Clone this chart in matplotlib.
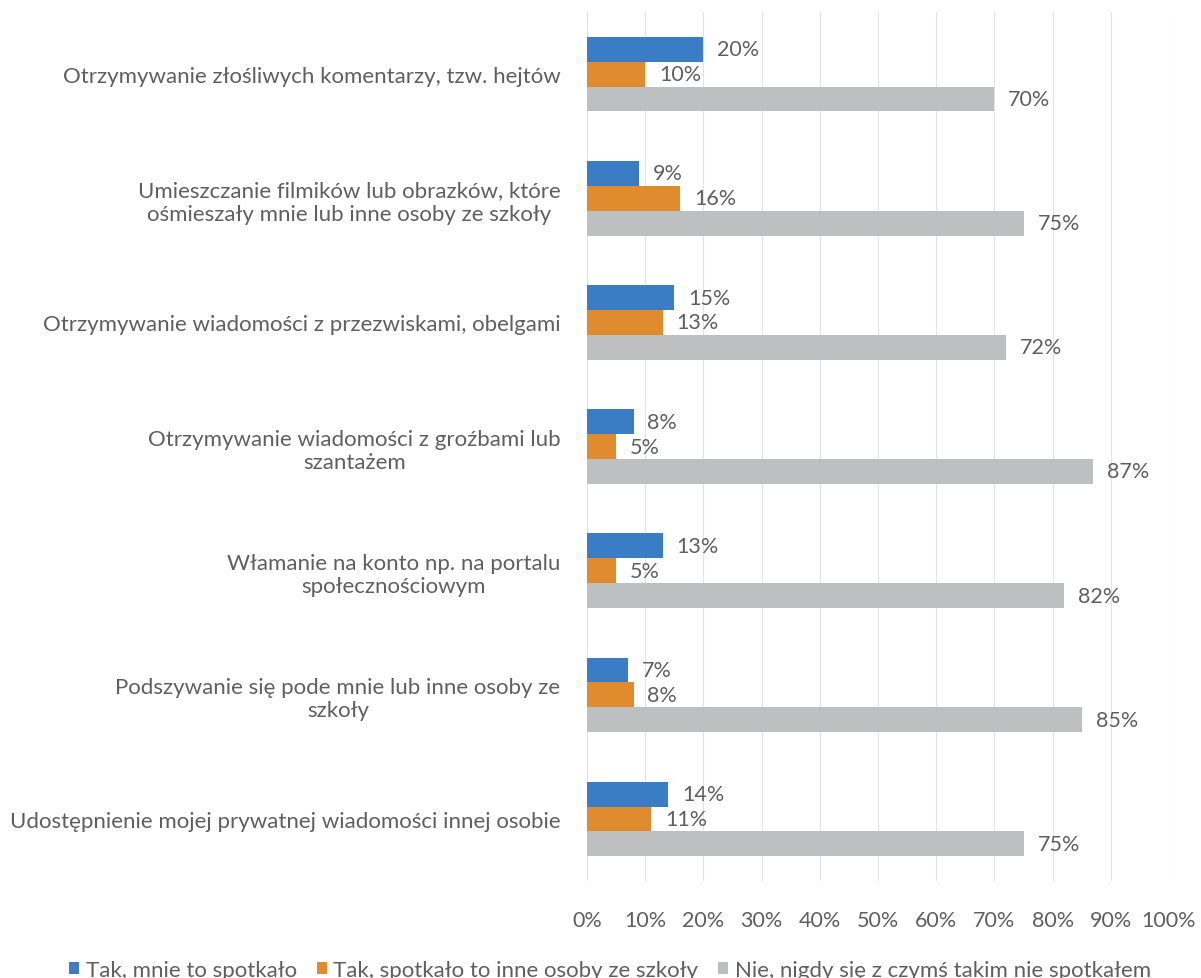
import matplotlib
matplotlib.use("Agg")
import matplotlib.pyplot as plt
import numpy as np
from matplotlib.patches import Patch

plt.rcParams['font.family'] = ['Lato', 'DejaVu Sans']

categories = [
    "Otrzymywanie złośliwych komentarzy, tzw. hejtów",
    "Umieszczanie filmików lub obrazków, które\nośmieszały mnie lub inne osoby ze szkoły",
    "Otrzymywanie wiadomości z przezwiskami, obelgami",
    "Otrzymywanie wiadomości z groźbami lub\nszantażem",
    "Włamanie na konto np. na portalu\nspołecznościowym",
    "Podszywanie się pode mnie lub inne osoby ze\nszkoły",
    "Udostępnienie mojej prywatnej wiadomości innej osobie",
]
series_names = [
    "Tak, mnie to spotkało",
    "Tak, spotkało to inne osoby ze szkoły",
    "Nie, nigdy się z czymś takim nie spotkałem",
]
tak_mnie = [20, 9, 15, 8, 13, 7, 14]
tak_inni = [10, 16, 13, 5, 5, 8, 11]
nie_nigdy = [70, 75, 72, 87, 82, 85, 75]
x_ticks = [0, 10, 20, 30, 40, 50, 60, 70, 80, 90, 100]

colors = ['#3b7dc4', '#e08c2e', '#bebfc0']
text_color = '#5f5f5f'

fig = plt.figure(figsize=(12.01, 9.79), dpi=100)
ax = fig.add_axes([587 / 1201, 0.099, 582 / 1201, 0.8876])

y = np.arange(len(categories))
h = 0.2
offsets = [-h, 0, h]
for vals, off, col in zip([tak_mnie, tak_inni, nie_nigdy], offsets, colors):
    bars = ax.barh(y + off, vals, height=h, color=col, zorder=2)
    for b, v in zip(bars, vals):
        ax.annotate(f"{v}%", (b.get_width(), b.get_y() + b.get_height() / 2),
                    xytext=(10, 0), textcoords='offset points',
                    ha='left', va='center', fontsize=15.5, color=text_color)

ax.set_xlim(0, 100)
ax.set_ylim(len(categories) - 0.5, -0.5)
ax.set_xticks(x_ticks)
ax.set_xticklabels([f"{t}%" for t in x_ticks], fontsize=15.5, color=text_color)
ax.set_yticks(y)
ax.set_yticklabels(categories, fontsize=16, color=text_color, multialignment='center')
ax.tick_params(axis='y', length=0, pad=19)
ax.tick_params(axis='x', length=0, pad=21)
for s in ax.spines.values():
    s.set_visible(False)
ax.grid(axis='x', color='#e2e2e2', linewidth=0.8, zorder=0)
ax.set_axisbelow(True)

handles = [Patch(facecolor=c, edgecolor='none') for c in colors]
fig.legend(handles, series_names, loc='center', bbox_to_anchor=(610 / 1201, 1 - 971 / 979),
           ncol=3, frameon=False, fontsize=16, handlelength=0.45, handleheight=0.45,
           handletextpad=0.3, columnspacing=0.9, labelcolor=text_color)

fig.savefig('out.png', dpi=100, facecolor='white')
